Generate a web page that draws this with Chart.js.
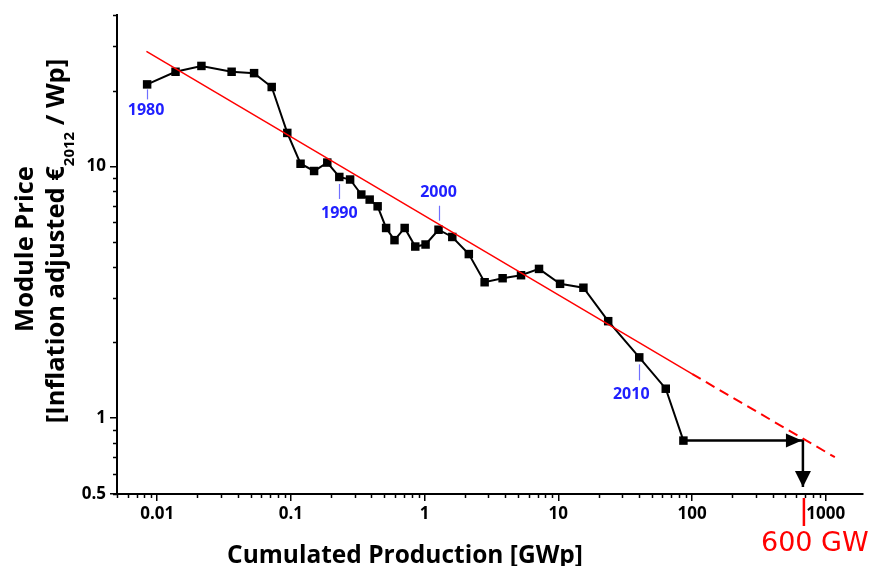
<!DOCTYPE html>
<html>
<head>
<meta charset="utf-8">
<script src="https://cdn.jsdelivr.net/npm/chart.js@4.4.0/dist/chart.umd.min.js"></script>
<style>
    html, body { margin: 0; padding: 0; background: #fff; }
    #wrap { position: relative; width: 869px; height: 566px; }
</style>
</head>
<body>
<div id="wrap"><canvas id="chart-price"></canvas></div>
<script>
// module price vs cumulated production, one point per year 1980 - 2012
var years = [1980, 1981, 1982, 1983, 1984, 1985, 1986, 1987, 1988, 1989,
    1990, 1991, 1992, 1993, 1994, 1995, 1996, 1997, 1998, 1999,
    2000, 2001, 2002, 2003, 2004, 2005, 2006, 2007, 2008, 2009,
    2010, 2011, 2012];
var cumProduction = [0.0084, 0.0137, 0.0214, 0.036, 0.053, 0.0718, 0.0939, 0.118, 0.149, 0.187,
    0.230, 0.277, 0.336, 0.388, 0.445, 0.515, 0.595, 0.709, 0.851, 1.016,
    1.27, 1.61, 2.14, 2.81, 3.83, 5.26, 7.17, 10.3, 15.4, 23.6,
    40.3, 63.6, 86.2];
var modulePrice = [21.2, 23.8, 25.1, 23.8, 23.5, 20.7, 13.6, 10.26, 9.6, 10.37,
    9.09, 8.88, 7.74, 7.39, 6.95, 5.70, 5.10, 5.70, 4.81, 4.90,
    5.61, 5.25, 4.49, 3.47, 3.60, 3.70, 3.92, 3.42, 3.30, 2.43,
    1.745, 1.31, 0.815];

// learning curve fit: solid up to 100 GWp, dashed beyond
var fitProduction = [0.0083, 100, 1170];
var fitPrice = [28.7, 1.5, 0.70];

// arrow from 2012 out to 600 GW and down to the axis
var arrowProduction = [86.2, 675, 675];
var arrowPrice = [0.815, 0.815, 0.533];

var xTicks = [0.01, 0.1, 1, 10, 100, 1000];
var yTicks = [0.5, 1, 10];
var labelYears = [1980, 1990, 2000, 2010];
var targetLabel = '600 GW';

function toPoints(xs, ys) {
    return xs.map(function (x, i) { return { x: x, y: ys[i] }; });
}

// unlabeled minor ticks 2..9 in every decade
function minorTicks(min, max) {
    var out = [];
    for (var e = -3; e <= 3; e++) {
        for (var m = 2; m <= 9; m++) {
            var v = m * Math.pow(10, e);
            if (v >= min && v <= max) out.push(v);
        }
    }
    return out;
}

var tickFont = { family: 'Open Sans', weight: 'bold', size: 17 };

var decorations = {
    id: 'decorations',
    afterDatasetsDraw: function (chart) {
        var ctx = chart.ctx;
        var xs = chart.scales.x, ys = chart.scales.y;
        ctx.save();

        // minor ticks
        ctx.strokeStyle = '#000';
        ctx.lineWidth = 1.5;
        ctx.beginPath();
        minorTicks(xs.min, xs.max).forEach(function (v) {
            var px = Math.round(xs.getPixelForValue(v)) + 0.5;
            ctx.moveTo(px, xs.top);
            ctx.lineTo(px, xs.top + 4);
        });
        minorTicks(ys.min, ys.max).forEach(function (v) {
            var py = Math.round(ys.getPixelForValue(v)) + 0.5;
            ctx.moveTo(ys.right, py);
            ctx.lineTo(ys.right - 4, py);
        });
        ctx.stroke();

        // year labels
        var meta = chart.getDatasetMeta(0);
        var offsets = {
            1980: { t0: 5, t1: 15, ty: 26, tx: -1 },
            1990: { t0: 7, t1: 22, ty: 36, tx: 0 },
            2000: { t0: -9, t1: -24, ty: -37, tx: 0 },
            2010: { t0: 7, t1: 23, ty: 37, tx: -8 }
        };
        ctx.font = 'bold 16px "Open Sans"';
        ctx.textAlign = 'center';
        ctx.textBaseline = 'middle';
        labelYears.forEach(function (yr) {
            var pt = meta.data[years.indexOf(yr)];
            var o = offsets[yr];
            ctx.strokeStyle = '#6f6fff';
            ctx.lineWidth = 1.2;
            ctx.beginPath();
            ctx.moveTo(Math.round(pt.x) + 0.5, pt.y + o.t0);
            ctx.lineTo(Math.round(pt.x) + 0.5, pt.y + o.t1);
            ctx.stroke();
            ctx.fillStyle = '#2020ff';
            ctx.fillText(String(yr), pt.x + o.tx, pt.y + o.ty);
        });

        // arrow heads
        var p1x = xs.getPixelForValue(arrowProduction[1]);
        var p1y = ys.getPixelForValue(arrowPrice[1]);
        var p2y = ys.getPixelForValue(arrowPrice[2]);
        ctx.fillStyle = '#000';
        ctx.beginPath();
        ctx.moveTo(p1x - 1, p1y);
        ctx.lineTo(p1x - 17, p1y - 7);
        ctx.lineTo(p1x - 17, p1y + 7);
        ctx.closePath();
        ctx.fill();
        ctx.beginPath();
        ctx.moveTo(p1x, p2y);
        ctx.lineTo(p1x - 8, p2y - 16);
        ctx.lineTo(p1x + 8, p2y - 16);
        ctx.closePath();
        ctx.fill();

        // red marker under the axis and its label
        ctx.strokeStyle = '#ff0000';
        ctx.lineWidth = 2.5;
        ctx.beginPath();
        ctx.moveTo(p1x + 1, xs.top + 4);
        ctx.lineTo(p1x + 1, xs.top + 32);
        ctx.stroke();
        ctx.fillStyle = '#ff0000';
        ctx.font = '27px "DejaVu Sans"';
        ctx.textAlign = 'left';
        ctx.textBaseline = 'alphabetic';
        ctx.fillText(targetLabel, 761, 551);

        // axis titles
        ctx.fillStyle = '#000';
        ctx.font = 'bold 24.5px "Open Sans"';
        ctx.textAlign = 'center';
        ctx.fillText('Cumulated Production [GWp]', 405, 563);

        ctx.translate(33, 249);
        ctx.rotate(-Math.PI / 2);
        ctx.font = 'bold 25.5px "Open Sans"';
        ctx.fillText('Module Price', 0, 0);

        var parts = [
            ['[Inflation adjusted €', 25.5, 0],
            ['2012', 15, 10],
            [' / Wp]', 25.5, 0]
        ];
        var total = 0;
        parts.forEach(function (p) {
            ctx.font = 'bold ' + p[1] + 'px "Open Sans"';
            p.push(ctx.measureText(p[0]).width);
            total += p[3];
        });
        ctx.textAlign = 'left';
        var cx = -total / 2 + 8;
        parts.forEach(function (p) {
            ctx.font = 'bold ' + p[1] + 'px "Open Sans"';
            ctx.fillText(p[0], cx, 31 + p[2]);
            cx += p[3];
        });

        ctx.restore();
    }
};

var chartPrice = new Chart(document.getElementById('chart-price'), {
    type: 'line',
    data: {
        datasets: [{
            label: 'Module price',
            data: toPoints(cumProduction, modulePrice),
            borderColor: '#000',
            backgroundColor: '#000',
            borderWidth: 2,
            pointStyle: 'rect',
            pointRadius: 6,
            pointBackgroundColor: '#000',
            pointBorderWidth: 0,
            order: 2
        }, {
            label: 'Fit',
            data: toPoints(fitProduction, fitPrice),
            borderColor: '#ff0000',
            borderWidth: 1.5,
            pointRadius: 0,
            segment: {
                borderDash: function (c) { return c.p0DataIndex >= 1 ? [10, 6] : undefined; },
                borderWidth: function (c) { return c.p0DataIndex >= 1 ? 2 : undefined; }
            },
            order: 1
        }, {
            label: 'Arrow',
            data: toPoints(arrowProduction, arrowPrice),
            borderColor: '#000',
            borderWidth: 2.5,
            pointRadius: 0,
            order: 3
        }]
    },
    options: {
        responsive: true,
        maintainAspectRatio: false,
        animation: false,
        events: [],
        layout: { padding: { top: 15, right: 0, left: 0, bottom: 0 } },
        plugins: {
            legend: { display: false },
            tooltip: { enabled: false }
        },
        scales: {
            x: {
                type: 'logarithmic',
                min: 0.005,
                max: 1900,
                afterBuildTicks: function (scale) {
                    scale.ticks = xTicks.map(function (v) { return { value: v }; });
                },
                afterFit: function (scale) {
                    scale.height = 72;
                    scale.paddingLeft = 0;
                    scale.paddingRight = 0;
                },
                grid: { drawOnChartArea: false, tickLength: 7, color: '#000', lineWidth: 1.5 },
                border: { color: '#000', width: 2 },
                ticks: {
                    autoSkip: false,
                    maxRotation: 0,
                    color: '#000',
                    font: tickFont,
                    padding: 3,
                    callback: function (v) { return String(v); }
                }
            },
            y: {
                type: 'logarithmic',
                min: 0.5,
                max: 40,
                afterBuildTicks: function (scale) {
                    scale.ticks = yTicks.map(function (v) { return { value: v }; });
                },
                afterFit: function (scale) {
                    scale.width = 117;
                    scale.paddingTop = 0;
                    scale.paddingBottom = 0;
                },
                grid: { drawOnChartArea: false, tickLength: 7, color: '#000', lineWidth: 1.5 },
                border: { color: '#000', width: 2 },
                ticks: {
                    autoSkip: false,
                    color: '#000',
                    font: tickFont,
                    padding: 4,
                    callback: function (v) { return String(v); }
                }
            }
        }
    },
    plugins: [decorations]
});
</script>
</body>
</html>
